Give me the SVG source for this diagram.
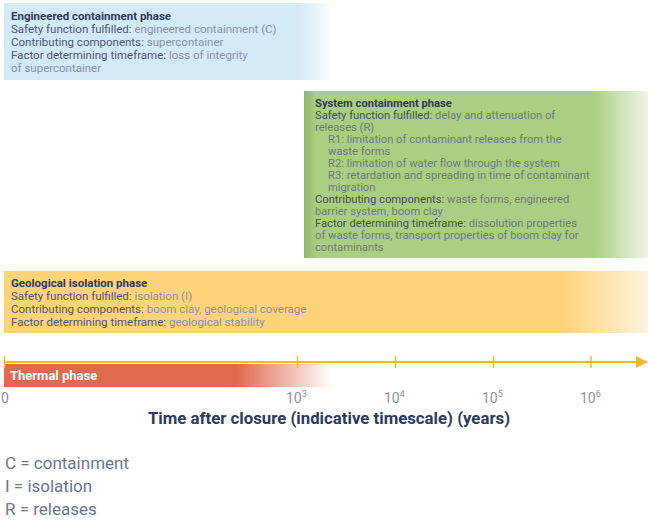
<svg xmlns="http://www.w3.org/2000/svg" width="648" height="520" viewBox="0 0 648 520">
<defs>
<linearGradient id="gBlue" x1="4" y1="0" x2="334" y2="0" gradientUnits="userSpaceOnUse">
<stop offset="0" stop-color="#d3eaf7"/><stop offset="0.89" stop-color="#d3eaf7"/><stop offset="1" stop-color="#d3eaf7" stop-opacity="0"/>
</linearGradient>
<linearGradient id="gGreen" x1="304" y1="0" x2="648" y2="0" gradientUnits="userSpaceOnUse">
<stop offset="0" stop-color="#8fb868"/><stop offset="0.035" stop-color="#a9cf82"/><stop offset="0.84" stop-color="#a9cf82"/><stop offset="1" stop-color="#a9cf82" stop-opacity="0.2"/>
</linearGradient>
<linearGradient id="gYellow" x1="4" y1="0" x2="648" y2="0" gradientUnits="userSpaceOnUse">
<stop offset="0" stop-color="#fed37a"/><stop offset="0.87" stop-color="#fed37a"/><stop offset="1" stop-color="#fed37a" stop-opacity="0.25"/>
</linearGradient>
<linearGradient id="gRed" x1="4" y1="0" x2="332" y2="0" gradientUnits="userSpaceOnUse">
<stop offset="0" stop-color="#df6a4f"/><stop offset="0.71" stop-color="#df6a4f"/><stop offset="1" stop-color="#df6a4f" stop-opacity="0"/>
</linearGradient>
<marker id="arr" markerWidth="12" markerHeight="12" refX="11" refY="6" orient="auto" markerUnits="userSpaceOnUse">
<path d="M0,0 L12,6 L0,12 Z" fill="#f6b925"/>
</marker>
</defs>
<style>
text{font-family:"Roboto","Liberation Sans",sans-serif;}
.box{font-size:11.5px;fill:#8a92a8;}
.g{font-size:11.2px;fill:#6c7b7c;}
.h{font-weight:bold;fill:#2c3a5e;}
.l{fill:#4d5672;}
.g .l{fill:#3f4c62;}
.tick{stroke:#f6b925;stroke-width:1.5;}
.ax{font-size:14px;fill:#8a93ad;}
.sup{font-size:9px;}
.leg{font-size:17px;fill:#6c7590;}
</style>
<g id="engineered">
<rect x="4" y="3" width="330" height="77" fill="url(#gBlue)"/>
<text class="box" x="11" y="20"><tspan class="h">Engineered containment phase</tspan>
<tspan class="l" x="11" y="33">Safety function fulfilled:</tspan> engineered containment (C)
<tspan class="l" x="11" y="46">Contributing components:</tspan> supercontainer
<tspan class="l" x="11" y="59">Factor determining timeframe:</tspan> loss of integrity
<tspan x="11" y="72">of supercontainer</tspan></text>
</g>
<g id="system">
<rect x="304" y="91" width="344" height="167" fill="url(#gGreen)"/>
<text class="box g" x="315" y="107"><tspan class="h">System containment phase</tspan>
<tspan class="l" x="315" y="119">Safety function fulfilled:</tspan> delay and attenuation of
<tspan x="315" y="131">releases (R)</tspan>
<tspan x="328" y="143">R1: limitation of contaminant releases from the</tspan>
<tspan x="328" y="155">waste forms</tspan>
<tspan x="328" y="167">R2: limitation of water flow through the system</tspan>
<tspan x="328" y="179">R3: retardation and spreading in time of contaminant</tspan>
<tspan x="328" y="191">migration</tspan>
<tspan class="l" x="315" y="203">Contributing components:</tspan> waste forms, engineered
<tspan x="315" y="215">barrier system, boom clay</tspan>
<tspan class="l" x="315" y="227">Factor determining timeframe:</tspan> dissolution properties
<tspan x="315" y="239">of waste forms, transport properties of boom clay for</tspan>
<tspan x="315" y="251">contaminants</tspan></text>
</g>
<g id="geological">
<rect x="4" y="271" width="644" height="62" fill="url(#gYellow)"/>
<text class="box" x="11" y="287"><tspan class="h">Geological isolation phase</tspan>
<tspan class="l" x="11" y="300">Safety function fulfilled:</tspan> isolation (I)
<tspan class="l" x="11" y="313">Contributing components:</tspan> boom clay, geological coverage
<tspan class="l" x="11" y="326">Factor determining timeframe:</tspan> geological stability</text>
</g>
<g id="thermal">
<rect x="4" y="364" width="328" height="23" fill="url(#gRed)"/>
<text x="10" y="379.5" font-size="13" font-weight="bold" fill="#ffffff">Thermal phase</text>
</g>
<g id="connectors">
<line x1="4" y1="362" x2="647" y2="362" stroke="#f6b925" stroke-width="2" marker-end="url(#arr)"/>
<line class="tick" x1="4.5" y1="356" x2="4.5" y2="368"/>
<line class="tick" x1="297.5" y1="356" x2="297.5" y2="368"/>
<line class="tick" x1="395.5" y1="356" x2="395.5" y2="368"/>
<line class="tick" x1="493.5" y1="356" x2="493.5" y2="368"/>
<line class="tick" x1="591" y1="356" x2="591" y2="368"/>
</g>
<g id="axis-labels">
<text class="ax" x="1" y="403">0</text>
<text class="ax" x="286" y="403">10<tspan class="sup" dy="-6">3</tspan></text>
<text class="ax" x="384" y="403">10<tspan class="sup" dy="-6">4</tspan></text>
<text class="ax" x="482" y="403">10<tspan class="sup" dy="-6">5</tspan></text>
<text class="ax" x="580" y="403">10<tspan class="sup" dy="-6">6</tspan></text>
<text x="329" y="424" text-anchor="middle" font-size="16.8" font-weight="bold" fill="#2c3a5e">Time after closure (indicative timescale) (years)</text>
</g>
<g id="legend">
<text class="leg" x="5" y="469">C = containment</text>
<text class="leg" x="5" y="492">I = isolation</text>
<text class="leg" x="5" y="515">R = releases</text>
</g>
</svg>
